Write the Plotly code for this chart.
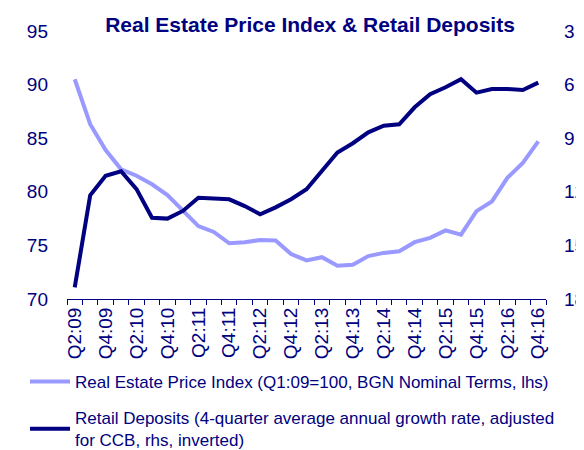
import plotly.graph_objects as go

quarters = ["Q2:09", "Q3:09", "Q4:09",
            "Q1:10", "Q2:10", "Q3:10", "Q4:10",
            "Q1:11", "Q2:11", "Q3:11", "Q4:11",
            "Q1:12", "Q2:12", "Q3:12", "Q4:12",
            "Q1:13", "Q2:13", "Q3:13", "Q4:13",
            "Q1:14", "Q2:14", "Q3:14", "Q4:14",
            "Q1:15", "Q2:15", "Q3:15", "Q4:15",
            "Q1:16", "Q2:16", "Q3:16", "Q4:16"]

real_estate_index = [90.5, 86.3, 83.9, 82.1, 81.5, 80.7, 79.7,
                     78.3, 76.8, 76.25, 75.2, 75.3, 75.5, 75.45,
                     74.2, 73.6, 73.9, 73.1, 73.2, 74.0, 74.3,
                     74.45, 75.3, 75.7, 76.4, 76.0, 78.2, 79.1,
                     81.3, 82.7, 84.7]

retail_deposits = [17.35, 12.2, 11.1, 10.85, 11.85, 13.45, 13.5,
                   13.07, 12.33, 12.36, 12.42, 12.8, 13.26, 12.87,
                   12.42, 11.86, 10.82, 9.8, 9.28, 8.67, 8.3,
                   8.22, 7.27, 6.54, 6.15, 5.7, 6.45, 6.25,
                   6.25, 6.3, 5.89]

left_ticks = [70, 75, 80, 85, 90, 95]
right_ticks = [3, 6, 9, 12, 15, 18]
shown_labels = [q if i % 2 == 0 else "" for i, q in enumerate(quarters)]

NAVY = "#000080"
LIGHT = "#9999FF"
FONT = "Liberation Sans, Arial, sans-serif"

# page is offset by the browser's 8px body margin
L, T, PW, PH = 59, 23, 479, 268
W, H = 584, 450

fig = go.Figure()
fig.add_trace(go.Scatter(
    x=quarters, y=real_estate_index, mode="lines",
    name="Real Estate Price Index (Q1:09=100, BGN Nominal Terms, lhs)",
    line=dict(color=LIGHT, width=4), legendgroup="a", yaxis="y"))
fig.add_trace(go.Scatter(
    x=quarters, y=retail_deposits, mode="lines",
    name="Retail Deposits (4-quarter average annual growth rate, adjusted<br>for CCB, rhs, inverted)",
    line=dict(color=NAVY, width=4), legendgroup="b", yaxis="y2"))

fig.update_layout(
    width=W, height=H,
    margin=dict(l=L, r=W - L - PW, t=T, b=H - T - PH, autoexpand=False),
    paper_bgcolor="white", plot_bgcolor="white",
    font=dict(family=FONT, color=NAVY),
    title=dict(text="<b>Real Estate Price Index & Retail Deposits</b>",
               font=dict(family=FONT, size=21, color=NAVY),
               x=302 / W, xref="container", xanchor="center",
               y=1 - 17 / H, yref="container", yanchor="middle"),
    xaxis=dict(type="category", categoryorder="array", categoryarray=quarters,
               tickmode="array", tickvals=quarters, ticktext=shown_labels,
               tickson="boundaries", ticks="outside", ticklen=5, tickwidth=1,
               tickcolor=NAVY, showline=True, linecolor=NAVY, linewidth=1,
               showgrid=False, zeroline=False, tickangle=-90,
               tickfont=dict(family=FONT, size=19, color=NAVY),
               range=[-0.5, 30.5], automargin=False),
    yaxis=dict(range=[70, 95], tickvals=left_ticks, showgrid=False,
               zeroline=False, showline=False, ticks="",
               tickfont=dict(family=FONT, size=19, color=NAVY),
               ticklabelstandoff=18, automargin=False),
    yaxis2=dict(range=[18, 3], tickvals=right_ticks, overlaying="y",
                side="right", showgrid=False, zeroline=False, showline=False,
                ticks="", tickfont=dict(family=FONT, size=19, color=NAVY),
                ticklabelstandoff=17, automargin=False),
    showlegend=True,
    legend=dict(x=(17 - L) / PW, xanchor="left",
                y=(T + PH - 356) / PH, yanchor="top",
                font=dict(family=FONT, size=17, color=NAVY),
                bgcolor="rgba(0,0,0,0)", tracegroupgap=11,
                itemwidth=40, traceorder="grouped"),
)

fig.write_html("out.html")
